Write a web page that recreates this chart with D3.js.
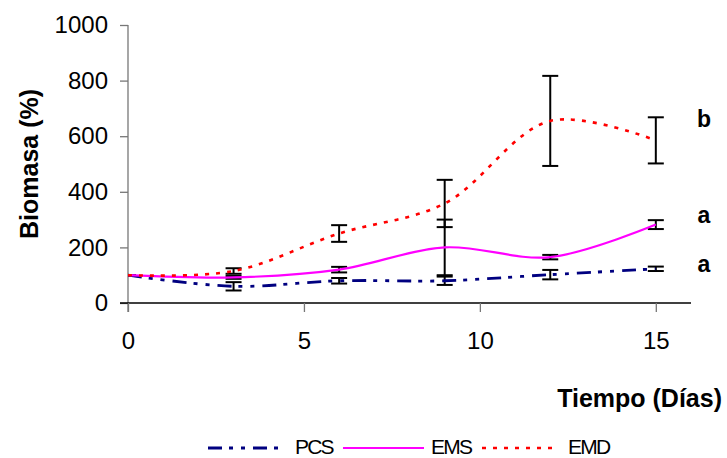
<!DOCTYPE html>
<html>
<head>
<meta charset="utf-8">
<script src="https://cdn.jsdelivr.net/npm/d3@7"></script>
<style>
  body { margin: 0; background: #fff; }
  svg { display: block; font-family: "Liberation Sans", Arial, sans-serif; }
</style>
</head>
<body>
<svg id="chart"></svg>
<script>
// days of measurement
const days = [0, 3, 6, 9, 12, 15];

// mean biomass (%) per series
const pcs = [100, 60, 80, 80, 102, 123];
const ems = [100, 92, 120, 200, 165, 282];
const emd = [100, 115, 250, 358, 655, 585];

// error bar half-widths
const pcsErr = [0, 15, 10, 15, 17, 8];
const emsErr = [0, 5, 10, 100, 8, 16];
const emdErr = [0, 10, 30, 85, 162, 83];

const seriesNames = ["PCS", "EMS", "EMD"];
// significance letters and the value they sit at
const groupLetters = ["b", "a", "a"];
const groupValues = [633, 288, 111];

const xTicks = [0, 5, 10, 15];
const yTicks = [0, 200, 400, 600, 800, 1000];

const width = 727;
const height = 458;
const margin = { top: 25, right: 36, bottom: 155, left: 128 };

const svg = d3.select("#chart")
  .attr("width", width)
  .attr("height", height);

const innerWidth = width - margin.left - margin.right;
const innerHeight = height - margin.top - margin.bottom;

const x = d3.scaleLinear().domain([0, 16]).range([0, innerWidth]);
const y = d3.scaleLinear().domain([0, 1000]).range([innerHeight, 0]);

svg.append("clipPath").attr("id", "plot")
  .append("rect").attr("x", 0).attr("y", -5)
  .attr("width", innerWidth).attr("height", innerHeight + 5);

const g = svg.append("g")
  .attr("transform", `translate(${margin.left},${margin.top})`);

// y axis
const yAxis = g.append("g")
  .call(d3.axisLeft(y).tickValues(yTicks).tickSize(8).tickPadding(12).tickFormat(d3.format("d")));
yAxis.select(".domain").attr("stroke", "#777").attr("stroke-width", 1.3)
  .attr("d", `M0,0V${innerHeight + 9}`);
yAxis.selectAll(".tick line").attr("stroke", "#777").attr("stroke-width", 1.3);
yAxis.selectAll(".tick text").attr("font-size", 24).attr("fill", "#000")
  .attr("font-family", "Liberation Sans, Arial, sans-serif");

// x axis
const xAxis = g.append("g")
  .attr("transform", `translate(0,${innerHeight})`)
  .call(d3.axisBottom(x).tickValues(xTicks).tickSize(9).tickPadding(20));
xAxis.select(".domain").attr("stroke", "#000").attr("stroke-width", 1.3)
  .attr("d", `M-8,0H${innerWidth}`);
xAxis.selectAll(".tick line").attr("stroke", "#777").attr("stroke-width", 1.3);
xAxis.selectAll(".tick text").attr("font-size", 24).attr("fill", "#000")
  .attr("font-family", "Liberation Sans, Arial, sans-serif");

// axis titles
svg.append("text")
  .attr("transform", `translate(38, 164) rotate(-90)`)
  .attr("text-anchor", "middle")
  .attr("font-size", 25)
  .attr("font-weight", "bold")
  .text("Biomasa (%)");

svg.append("text")
  .attr("x", 722)
  .attr("y", 407)
  .attr("text-anchor", "end")
  .attr("font-size", 25)
  .attr("font-weight", "bold")
  .text("Tiempo (Días)");

const styles = [
  { color: "#000080", dash: "14,7,4,8,4,8", width: 2.8 },
  { color: "#FF00FF", dash: null, width: 2.2 },
  { color: "#FF0000", dash: "4,7", width: 2.6 }
];
const means = [pcs, ems, emd];
const errs = [pcsErr, emsErr, emdErr];

const line = d3.line()
  .x(d => x(d[0]))
  .y(d => y(d[1]))
  .curve(d3.curveCatmullRom.alpha(0.5));

const plot = g.append("g").attr("clip-path", "url(#plot)");

// error bars (drawn under the lines)
errs.forEach((err, s) => {
  days.forEach((day, i) => {
    const lo = y(means[s][i] - err[i]);
    const hi = y(means[s][i] + err[i]);
    const cx = x(day);
    const eb = plot.append("g").attr("stroke", "#000").attr("stroke-width", 2);
    eb.append("line").attr("x1", cx).attr("x2", cx).attr("y1", lo).attr("y2", hi);
    eb.append("line").attr("x1", cx - 8).attr("x2", cx + 8).attr("y1", lo).attr("y2", lo);
    eb.append("line").attr("x1", cx - 8).attr("x2", cx + 8).attr("y1", hi).attr("y2", hi);
  });
});

// series lines
means.forEach((vals, s) => {
  plot.append("path")
    .datum(days.map((d, i) => [d, vals[i]]))
    .attr("fill", "none")
    .attr("stroke", styles[s].color)
    .attr("stroke-width", styles[s].width)
    .attr("stroke-dasharray", styles[s].dash)
    .attr("d", line);
});

// significance letters
groupLetters.forEach((l, i) => {
  svg.append("text")
    .attr("x", 704)
    .attr("y", margin.top + y(groupValues[i]))
    .attr("text-anchor", "middle")
    .attr("font-size", 23)
    .attr("font-weight", "bold")
    .text(l);
});

// legend
const legendX = [208, 343, 482];
const legendLen = [72, 81, 76];
const legendTextX = [295, 431, 568];
const legend = svg.append("g");
seriesNames.forEach((name, i) => {
  legend.append("line")
    .attr("x1", legendX[i]).attr("x2", legendX[i] + legendLen[i])
    .attr("y1", 448).attr("y2", 448)
    .attr("stroke", styles[i].color)
    .attr("stroke-width", styles[i].width)
    .attr("stroke-dasharray", styles[i].dash);
  legend.append("text")
    .attr("x", legendTextX[i])
    .attr("y", 454)
    .attr("font-size", 21)
    .attr("letter-spacing", -1.8)
    .text(name);
});
</script>
</body>
</html>
